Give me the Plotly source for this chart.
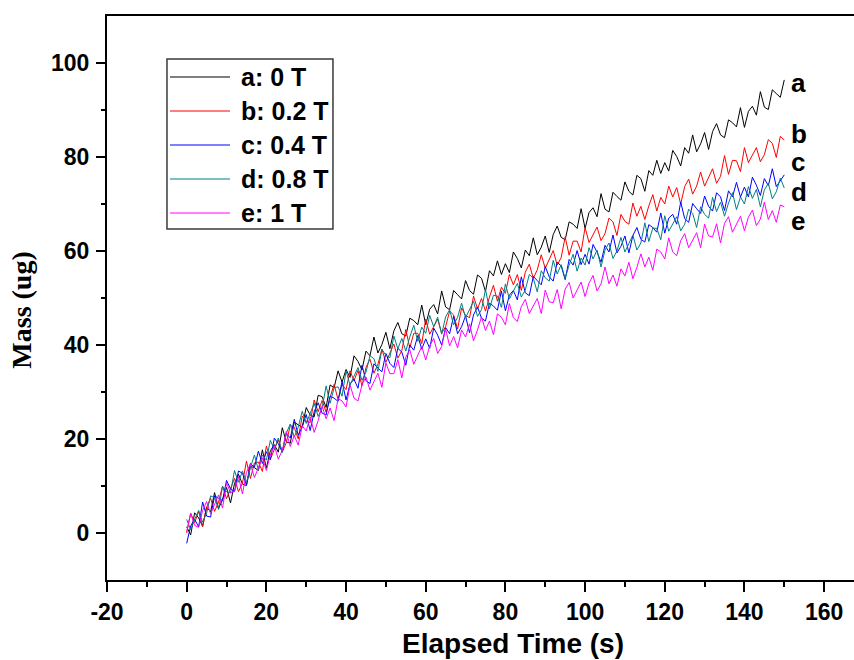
import plotly.graph_objects as go

# elapsed time (s), one sample per second
time_s = list(range(0, 151))

mass_a = [1.3, -0.4, 4.3, 3.2, 1.4, 5.5, 4.5, 8.6, 5.2, 7.1, 9.7, 6.4, 10.5, 12.5, 10.4, 10.1, 14.2, 13.9, 13.3, 17.7,
          13.8, 17.5, 18.8, 17.2, 22.4, 19.4, 19.1, 23.6, 23.0, 22.5, 26.7, 25.1, 24.7, 29.3, 29.0, 26.7, 31.5, 30.9, 34.5, 32.1,
          34.8, 33.1, 37.7, 36.5, 34.7, 38.7, 37.7, 41.7, 38.3, 40.1, 42.7, 39.2, 43.0, 44.8, 42.4, 41.9, 45.7, 45.2, 44.3, 48.5,
          44.3, 47.6, 48.6, 46.6, 51.5, 48.1, 47.5, 51.6, 50.7, 49.8, 53.7, 51.6, 50.8, 54.9, 54.2, 51.4, 55.8, 54.7, 57.9, 55.0,
          57.3, 55.4, 59.8, 58.4, 56.4, 60.2, 59.0, 62.8, 59.2, 60.8, 63.2, 59.7, 63.5, 65.3, 62.9, 62.4, 66.2, 65.7, 64.8, 69.0,
          64.8, 68.2, 69.2, 67.3, 72.2, 68.9, 68.3, 72.5, 71.6, 70.8, 74.7, 72.7, 71.9, 76.1, 75.4, 72.7, 77.1, 76.1, 79.3, 76.5,
          78.8, 77.0, 81.4, 80.1, 78.1, 82.0, 80.8, 84.7, 81.1, 82.8, 85.2, 81.6, 85.4, 87.1, 84.7, 84.1, 87.9, 87.3, 86.4, 90.5,
          86.3, 89.7, 90.8, 88.9, 93.9, 90.6, 90.1, 94.3, 93.5, 92.7, 96.4]

mass_b = [0.0, 4.2, 2.2, 4.6, 1.4, 5.5, 7.4, 4.6, 6.6, 10.0, 7.3, 9.5, 11.6, 8.8, 10.6, 15.3, 11.6, 14.9, 15.1, 13.1,
          18.5, 15.7, 17.9, 19.8, 17.3, 19.2, 22.9, 22.5, 20.0, 24.9, 23.8, 23.5, 28.3, 25.8, 28.2, 25.7, 28.9, 31.6, 28.4, 31.6,
          30.5, 34.5, 32.4, 34.6, 31.3, 35.2, 37.0, 34.0, 35.9, 39.1, 36.3, 38.3, 40.2, 37.2, 38.8, 43.3, 39.4, 42.5, 42.5, 40.3,
          45.5, 42.3, 44.0, 45.5, 42.5, 43.9, 47.2, 46.4, 43.4, 47.9, 46.3, 45.8, 50.4, 47.7, 49.9, 47.2, 50.2, 52.7, 49.3, 52.3,
          51.0, 55.0, 52.8, 55.0, 51.6, 55.5, 57.2, 54.2, 56.0, 59.2, 56.3, 58.2, 60.1, 57.0, 58.6, 63.0, 59.1, 62.1, 62.1, 59.8,
          65.0, 61.8, 63.6, 65.1, 62.2, 63.7, 67.0, 66.2, 63.3, 67.8, 66.3, 65.7, 70.2, 67.4, 69.5, 66.7, 69.6, 72.0, 68.5, 71.4,
          70.0, 73.8, 71.5, 73.5, 70.0, 73.7, 75.3, 72.1, 73.8, 76.8, 73.8, 75.7, 77.5, 74.4, 75.9, 80.3, 76.3, 79.3, 79.2, 76.9,
          82.0, 78.8, 80.5, 82.0, 79.0, 80.5, 83.7, 82.9, 79.9, 84.4, 83.6]

mass_c = [-2.2, 1.5, 2.9, 1.3, 6.6, 3.6, 3.4, 7.9, 7.4, 6.9, 11.2, 9.4, 8.8, 13.2, 12.7, 10.2, 14.8, 14.0, 17.4, 14.8,
          17.3, 15.6, 20.2, 19.0, 17.2, 21.2, 20.2, 24.2, 20.8, 22.6, 25.2, 21.8, 25.8, 27.7, 25.5, 25.1, 29.1, 28.7, 28.0, 32.3,
          28.3, 31.7, 32.7, 30.8, 35.7, 32.4, 31.8, 36.0, 35.1, 34.3, 38.2, 36.1, 35.2, 39.3, 38.5, 35.7, 40.0, 38.9, 42.0, 39.1,
          41.3, 39.3, 43.6, 42.1, 40.0, 43.7, 42.4, 46.1, 42.4, 43.9, 46.2, 42.6, 46.4, 48.1, 45.7, 45.1, 48.9, 48.3, 47.4, 51.5,
          47.3, 50.6, 51.6, 49.6, 54.5, 51.1, 50.5, 54.6, 53.7, 52.8, 56.7, 54.5, 53.6, 57.6, 56.8, 53.9, 58.2, 57.0, 60.1, 57.1,
          59.3, 57.2, 61.4, 59.8, 57.6, 61.2, 59.8, 63.4, 59.6, 61.0, 63.2, 59.6, 63.3, 65.0, 62.5, 61.9, 65.6, 65.0, 64.0, 68.1,
          63.8, 67.0, 67.8, 65.7, 70.4, 66.9, 66.1, 70.1, 69.0, 68.0, 71.7, 69.5, 68.5, 72.4, 71.5, 68.6, 72.8, 71.5, 74.6, 71.5,
          73.6, 71.5, 75.7, 74.0, 71.8, 75.4, 73.9, 77.5, 73.7, 75.0, 76.2]

mass_d = [2.9, 0.7, 2.9, 4.8, 2.3, 4.2, 7.9, 7.5, 5.0, 9.9, 8.8, 8.5, 13.3, 10.8, 13.2, 10.7, 13.9, 16.6, 13.4, 16.6,
          15.5, 19.7, 17.8, 20.2, 17.1, 21.2, 23.2, 20.4, 22.5, 25.9, 23.3, 25.5, 27.6, 24.8, 26.6, 31.3, 27.6, 30.9, 31.1, 29.1,
          34.5, 31.5, 33.5, 35.2, 32.5, 34.2, 37.7, 37.1, 34.4, 39.1, 37.8, 37.3, 41.9, 39.2, 41.4, 38.7, 41.7, 44.2, 40.8, 43.8,
          42.5, 46.3, 43.9, 45.9, 42.3, 46.0, 47.5, 44.3, 45.9, 48.9, 45.8, 47.6, 49.3, 46.1, 47.5, 51.8, 47.7, 50.6, 50.4, 48.0,
          53.0, 49.8, 51.6, 53.1, 50.2, 51.7, 55.0, 54.2, 51.3, 55.8, 54.3, 53.6, 58.0, 55.1, 57.1, 54.2, 57.0, 59.3, 55.7, 58.5,
          57.0, 60.7, 58.3, 60.2, 56.6, 60.2, 61.7, 58.4, 60.0, 62.9, 59.8, 61.6, 63.4, 60.2, 61.7, 66.0, 62.0, 64.9, 64.8, 62.4,
          67.5, 64.2, 65.9, 67.3, 64.3, 65.7, 68.9, 68.0, 65.0, 69.4, 67.8, 67.0, 71.4, 68.4, 70.4, 67.4, 70.2, 72.4, 68.8, 71.5,
          70.0, 73.7, 71.2, 73.1, 69.4, 73.0, 74.4, 71.1, 72.6, 75.5, 73.4]

mass_e = [0.3, 4.2, 1.6, 1.2, 4.8, 6.7, 4.1, 6.0, 8.1, 5.3, 10.7, 8.6, 8.8, 12.0, 8.3, 12.9, 14.7, 11.8, 13.9, 16.0,
          13.3, 16.6, 18.6, 15.7, 17.6, 21.6, 18.4, 20.7, 18.7, 22.8, 21.7, 24.7, 21.4, 23.9, 27.0, 24.3, 26.6, 23.9, 28.6, 28.1,
          26.8, 31.5, 28.7, 28.1, 31.5, 33.2, 30.4, 32.1, 34.0, 31.0, 36.2, 33.9, 33.9, 36.9, 33.0, 37.4, 39.0, 35.9, 37.8, 39.7,
          36.8, 39.8, 41.4, 38.2, 39.7, 43.4, 39.8, 41.8, 39.4, 43.2, 41.7, 44.5, 40.9, 43.2, 46.0, 43.1, 45.1, 42.2, 46.6, 45.9,
          44.3, 48.8, 45.8, 45.0, 48.2, 49.7, 46.7, 48.2, 49.9, 46.7, 51.7, 49.2, 49.0, 51.8, 47.7, 51.9, 53.3, 50.0, 51.7, 53.4,
          50.3, 53.2, 54.8, 51.5, 53.0, 56.6, 53.0, 54.9, 52.5, 56.2, 54.7, 57.6, 54.1, 56.5, 59.4, 56.6, 58.7, 55.9, 60.4, 59.8,
          58.3, 62.8, 59.8, 59.0, 62.2, 63.7, 60.7, 62.2, 63.9, 60.7, 65.7, 63.2, 63.0, 65.8, 61.7, 65.9, 67.3, 64.0, 65.7, 67.4,
          64.3, 67.2, 68.7, 65.4, 66.8, 70.4, 66.7, 68.6, 66.1, 69.8, 69.4]

series_names = ["a: 0 T", "b: 0.2 T", "c: 0.4 T", "d: 0.8 T", "e: 1 T"]
series_tags = ["a", "b", "c", "d", "e"]
tag_y = [95.7, 85.0, 78.9, 72.6, 66.3]
colors = ["#000000", "#ff0000", "#0000ff", "#008080", "#ff00ff"]

x_ticks = [-20, 0, 20, 40, 60, 80, 100, 120, 140, 160]
x_ticktext = ["-20", "0", "20", "40", "60", "80", "100", "120", "140", "160"]
y_ticks = [0, 20, 40, 60, 80, 100]

all_mass = [mass_a, mass_b, mass_c, mass_d, mass_e]

fig = go.Figure()
for i, (name, ys) in enumerate(zip(series_names, all_mass)):
    fig.add_trace(go.Scatter(x=time_s, y=ys, mode="lines", name=name, showlegend=False,
                             line=dict(color=colors[i], width=1)))

# letters at the end of each curve
for tag, yy in zip(series_tags, tag_y):
    fig.add_annotation(x=151.5, y=yy, text=tag, showarrow=False, xanchor="left", yanchor="middle",
                       borderpad=0,
                       font=dict(family="Liberation Sans", size=26, weight="bold", color="black"))

# boxed legend drawn by hand (longer line samples than plotly's own legend)
legend_row_y = [0.8918, 0.8316, 0.7713, 0.7110, 0.6507]
fig.add_shape(type="rect", xref="paper", yref="paper", x0=0.0803, x1=0.3025, y0=0.6223, y1=0.9238,
              line=dict(color="#3a3a3a", width=1.5), fillcolor="white", layer="above")
for name, col, ry in zip(series_names, colors, legend_row_y):
    fig.add_shape(type="line", xref="paper", yref="paper", x0=0.0843, x1=0.1647, y0=ry, y1=ry,
                  line=dict(color=col, width=1.2), layer="above")
    fig.add_annotation(xref="paper", yref="paper", x=0.1767, y=ry, text=name, showarrow=False,
                       xanchor="left", yanchor="middle",
                       font=dict(family="Liberation Sans", size=25, weight="bold", color="black"))

# axis titles as annotations so they sit where the original has them
fig.add_annotation(xref="paper", yref="paper", x=0.543, y=-0.112, text="Elapsed Time (s)",
                   showarrow=False, xanchor="center", yanchor="middle",
                   font=dict(family="Liberation Sans", size=28, weight="bold", color="black"))
fig.add_annotation(xref="paper", yref="paper", x=-0.114, y=0.479, text="Mass (ug)", textangle=-90,
                   showarrow=False, xanchor="center", yanchor="middle",
                   font=dict(family="Liberation Serif", size=28, weight="bold", color="black"))

tickfont = dict(family="Liberation Sans", size=23, weight="bold", color="black")

fig.update_xaxes(range=[-20, 167.5], tickvals=x_ticks, ticktext=x_ticktext,
                 showline=True, linewidth=2, linecolor="black", mirror=True,
                 ticks="outside", ticklen=10, tickwidth=2, tickcolor="black",
                 minor=dict(tickvals=[-10, 10, 30, 50, 70, 90, 110, 130, 150], ticks="outside",
                            ticklen=5, tickwidth=2, tickcolor="black"),
                 showgrid=False, zeroline=False, tickfont=tickfont, ticklabelstandoff=0)
fig.update_yaxes(range=[-10, 110], tickvals=y_ticks,
                 showline=True, linewidth=2, linecolor="black",
                 ticks="outside", ticklen=9, tickwidth=2, tickcolor="black",
                 minor=dict(tickvals=[10, 30, 50, 70, 90], ticks="outside",
                            ticklen=4, tickwidth=2, tickcolor="black"),
                 showgrid=False, zeroline=False, tickfont=tickfont, ticklabelstandoff=2)

fig.update_layout(
    width=854, height=660,
    margin=dict(l=107, r=0, t=16, b=80),
    plot_bgcolor="white", paper_bgcolor="white",
)

fig.write_html("out.html", config={"displayModeBar": False},
               post_script="document.body.style.margin='0';")
